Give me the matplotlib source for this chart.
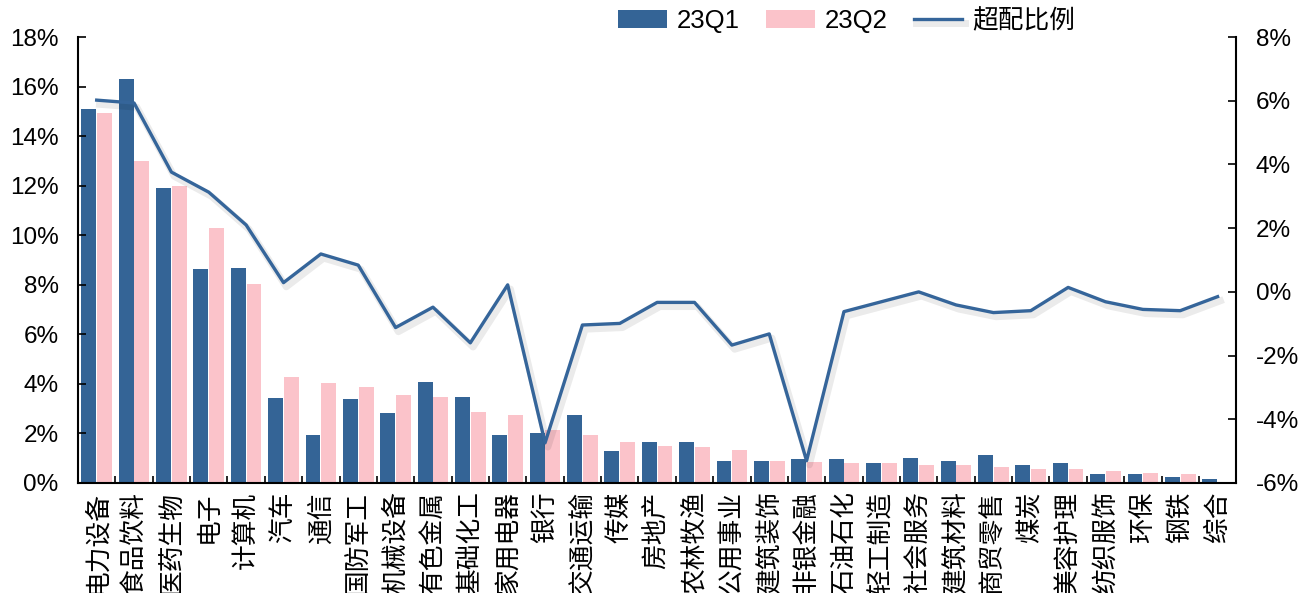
import numpy as np
import matplotlib
matplotlib.use('Agg')
from matplotlib import pyplot as plt
from matplotlib import patheffects as pe
from matplotlib.ticker import PercentFormatter

plt.rcParams['font.family'] = ['Liberation Sans', 'Noto Sans CJK SC']
plt.rcParams['axes.unicode_minus'] = False

# 行业
industries = ['电力设备', '食品饮料', '医药生物', '电子', '计算机', '汽车', '通信', '国防军工',
              '机械设备', '有色金属', '基础化工', '家用电器', '银行', '交通运输', '传媒', '房地产',
              '农林牧渔', '公用事业', '建筑装饰', '非银金融', '石油石化', '轻工制造', '社会服务',
              '建筑材料', '商贸零售', '煤炭', '美容护理', '纺织服饰', '环保', '钢铁', '综合']
# 持仓占比 (%)
q1 = [15.1, 16.3, 11.9, 8.64, 8.68, 3.43, 1.94, 3.39, 2.83, 4.08, 3.48, 1.92, 2.03, 2.73, 1.28,
      1.65, 1.65, 0.90, 0.90, 0.96, 0.96, 0.79, 1.01, 0.90, 1.12, 0.74, 0.79, 0.36, 0.36, 0.25, 0.15]
q2 = [14.95, 13.0, 12.0, 10.3, 8.03, 4.28, 4.04, 3.87, 3.55, 3.47, 2.88, 2.73, 2.14, 1.92, 1.65,
      1.49, 1.44, 1.33, 0.90, 0.85, 0.79, 0.79, 0.74, 0.74, 0.63, 0.58, 0.58, 0.47, 0.42, 0.36, 0.05]
# 超配比例 (%)
overweight = [6.02, 5.93, 3.76, 3.13, 2.10, 0.29, 1.19, 0.84, -1.12, -0.48, -1.60, 0.22, -4.74,
              -1.04, -0.99, -0.33, -0.33, -1.67, -1.32, -5.30, -0.62, -0.31, 0.0, -0.41, -0.65,
              -0.59, 0.14, -0.31, -0.55, -0.59, -0.15]

c_q1 = '#346496'
c_q2 = '#fbc3ca'
c_line = '#35659a'

fig = plt.figure(figsize=(13.11, 5.93), dpi=100)
ax = fig.add_axes([0.0595, 0.1855, 0.8835, 0.752])

x = np.arange(len(industries))
w = 0.40
b1 = ax.bar(x - 0.21, q1, w, color=c_q1, label='23Q1')
b2 = ax.bar(x + 0.21, q2, w, color=c_q2, label='23Q2')

ax.set_xlim(-0.5, len(industries) - 0.5)
ax.set_ylim(0, 18)
ax.set_yticks(np.arange(0, 19, 2))
ax.yaxis.set_major_formatter(PercentFormatter(decimals=0))
ax.set_xticks(x)
ax.set_xticklabels(industries, rotation=90, fontsize=18.5, va='top')
ax.set_xticks(np.arange(-0.5, len(industries), 1), minor=True)
ax.tick_params(axis='x', which='major', length=0, pad=6)
ax.tick_params(axis='x', which='minor', direction='in', length=5, width=1.2)
ax.tick_params(axis='y', direction='in', length=6, width=1.2, labelsize=17.5, pad=14)
ax.spines['top'].set_visible(False)
ax.spines['right'].set_visible(False)
for s in ['left', 'bottom']:
    ax.spines[s].set_linewidth(1.5)

ax2 = ax.twinx()
line, = ax2.plot(x, overweight, color=c_line, lw=2.4, label='超配比例',
                 path_effects=[pe.SimpleLineShadow(offset=(2, -3), alpha=0.08, shadow_color='k',
                                                   linewidth=5),
                               pe.Normal()])
ax2.set_ylim(-6, 8)
ax2.set_yticks(np.arange(-6, 9, 2))
ax2.yaxis.set_major_formatter(PercentFormatter(decimals=0))
ax2.tick_params(axis='y', direction='in', length=6, width=1.2, labelsize=17.5, pad=14)
ax2.spines['top'].set_visible(False)
ax2.spines['left'].set_visible(False)
ax2.spines['bottom'].set_visible(False)
ax2.spines['right'].set_linewidth(1.5)

fig.legend([b1, b2, line], ['23Q1', '23Q2', '超配比例'], loc='center',
           bbox_to_anchor=(0.646, 0.965), ncol=3, frameon=False, fontsize=18.5,
           handlelength=1.9, handleheight=0.65, handletextpad=0.4, columnspacing=1.0)

plt.savefig('out.png', dpi=100)
